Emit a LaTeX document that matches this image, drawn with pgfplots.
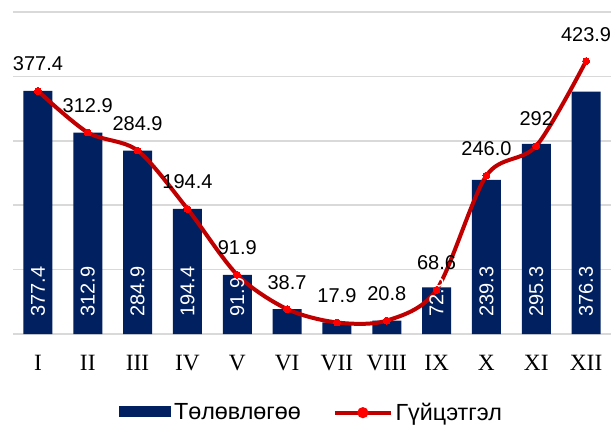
\documentclass[border=0pt]{standalone}
\usepackage{fontspec}
\setmainfont{Liberation Sans}
\newfontfamily\timesfont{Liberation Serif}
\usepackage{pgfplots}
\pgfplotsset{compat=1.18}
\definecolor{navy}{HTML}{002060}
\definecolor{dred}{HTML}{C00000}
\definecolor{mred}{HTML}{FF0000}
\definecolor{gridgray}{HTML}{D9D9D9}
\begin{document}
\begin{tikzpicture}
\begin{axis}[
  at={(0,0)}, anchor=south west,
  scale only axis, width=448.5pt, height=241.5pt,
  xmin=-0.5, xmax=11.5, ymin=0, ymax=500,
  axis line style={draw=none},
  ymajorgrids, grid style={color=gridgray, line width=1.1pt},
  ytick={0,100,...,500}, yticklabels={},
  xtick={0,...,11},
  xticklabels={I,II,III,IV,V,VI,VII,VIII,IX,X,XI,XII},
  xticklabel style={font=\timesfont\fontsize{17.5}{17.5}\selectfont, anchor=base, yshift=-27pt},
  tick style={draw=none}, major tick length=0pt,
  clip=false,
  legend columns=2,
  legend style={at={(axis description cs:0.5,0)}, anchor=center, yshift=-59pt,
    draw=none, fill=none, font=\fontsize{17.5}{17.5}\selectfont,
    /tikz/every even column/.append style={column sep=22pt}},
]
\addplot[ybar, bar width=21.75pt, fill=navy, draw=none,
  legend image code/.code={\fill[navy] (0pt,-3.5pt) rectangle (39pt,4.75pt);}]
  coordinates {(0,377.4) (1,312.9) (2,284.9) (3,194.4) (4,91.9) (5,38.7)
               (6,17.9) (7,20.8) (8,72.6) (9,239.3) (10,295.3) (11,376.3)};
\addlegendentry{Төлөвлөгөө}
\addplot[forget plot, draw=none, mark=none, nodes near coords, point meta=explicit symbolic,
  every node near coord/.style={yshift=12.75pt, rotate=90, anchor=west, inner sep=0pt,
    text=white, font=\fontsize{15}{15}\selectfont}]
  coordinates {(0,0)[377.4] (1,0)[312.9] (2,0)[284.9] (3,0)[194.4] (4,0)[91.9]
               (8,0)[72.6] (9,0)[239.3] (10,0)[295.3] (11,0)[376.3]};
\addplot[smooth, color=dred, line width=3pt, mark=*, mark size=2.6pt,
  mark options={fill=mred, draw=mred, line width=0pt},
  nodes near coords, point meta=explicit symbolic,
  every node near coord/.style={anchor=base, yshift=15pt, inner sep=0pt, text=black,
    font=\fontsize{15}{15}\selectfont},
  legend image code/.code={\draw[dred, line width=3pt] (0pt,0pt) -- (42pt,0pt);
    \fill[mred] (21pt,0pt) circle (2.6pt);}]
  coordinates {(0,377.4)[377.4] (1,312.9)[312.9] (2,284.9)[284.9] (3,194.4)[194.4]
               (4,91.9)[91.9] (5,38.7)[38.7] (6,17.9)[17.9] (7,20.8)[20.8]
               (8,68.6)[68.6] (9,246.0)[246.0] (10,292)[292] (11,423.9)[423.9]};
\addlegendentry{Гүйцэтгэл}
\end{axis}
\pgfresetboundingbox
\path (-9.75pt,-69pt) rectangle (448.5pt,250.5pt);
\end{tikzpicture}
\end{document}
